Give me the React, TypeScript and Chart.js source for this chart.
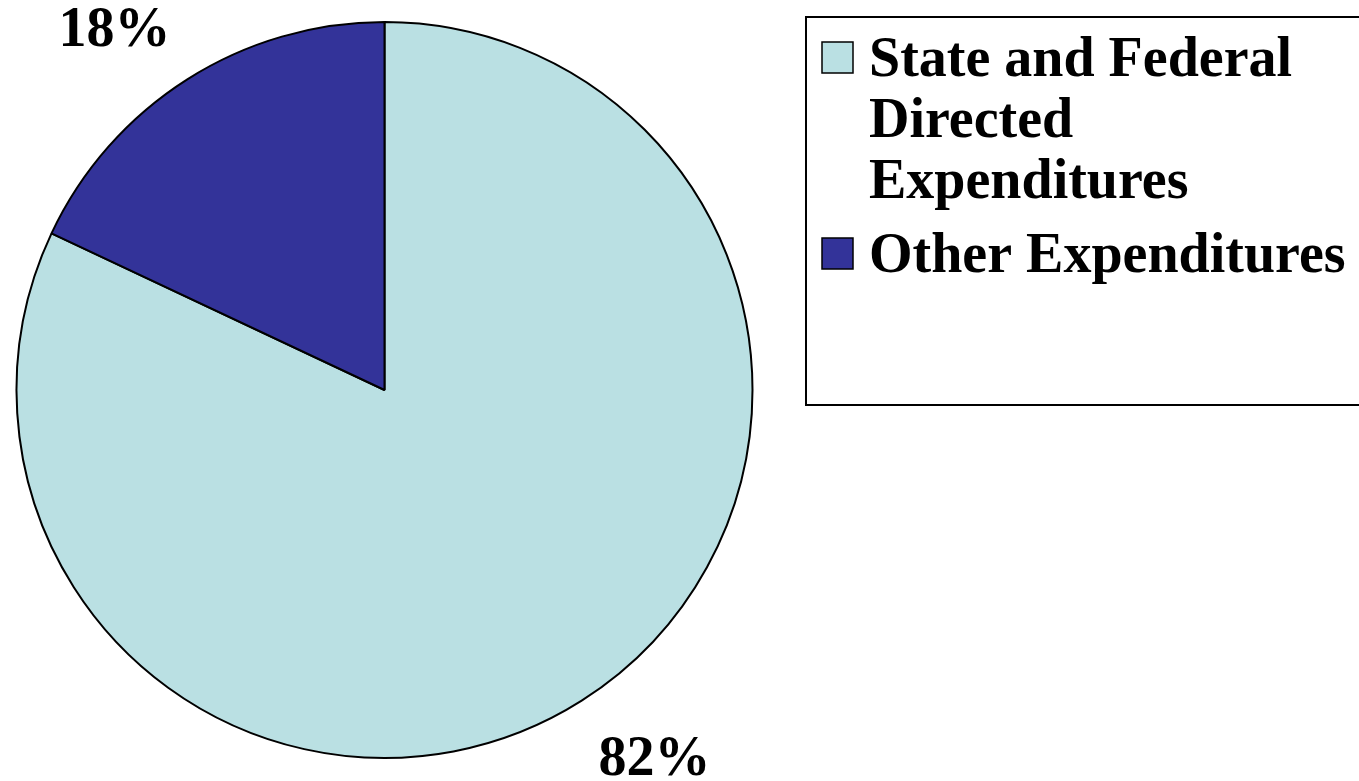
import React, { useEffect, useRef } from "react";
import { Chart, registerables } from "chart.js";

Chart.register(...registerables);

const categories = ["State and Federal Directed Expenditures", "Other Expenditures"];
const shares = [82, 18];
const sliceColors = ["#BAE0E3", "#333399"];
const valueLabels = ["82%", "18%"];

const FONT = "bold 56px 'Liberation Serif', 'Times New Roman', serif";

function wrapText(ctx: CanvasRenderingContext2D, text: string, maxWidth: number): string[] {
  const words = text.split(" ");
  const lines: string[] = [];
  let current = "";
  for (const w of words) {
    const trial = current ? current + " " + w : w;
    if (current && ctx.measureText(trial).width > maxWidth) {
      lines.push(current);
      current = w;
    } else {
      current = trial;
    }
  }
  if (current) lines.push(current);
  return lines;
}

// Percentage labels placed outside each slice, along its middle angle
const outsideLabels = {
  id: "outsideLabels",
  afterDatasetsDraw(chart: any) {
    const ctx: CanvasRenderingContext2D = chart.ctx;
    const meta = chart.getDatasetMeta(0);
    ctx.save();
    ctx.font = FONT;
    ctx.fillStyle = "#000";
    ctx.textAlign = "center";
    ctx.textBaseline = "middle";
    meta.data.forEach((arc: any, i: number) => {
      const { x, y, startAngle, endAngle, outerRadius } = arc.getProps(
        ["x", "y", "startAngle", "endAngle", "outerRadius"],
        true
      );
      const mid = (startAngle + endAngle) / 2;
      const lx = x + Math.cos(mid) * (outerRadius + 136);
      const ly = y + Math.sin(mid) * (outerRadius + 64) + 6;
      ctx.fillText(valueLabels[i], lx, ly);
    });
    ctx.restore();
  },
};

// Boxed legend with wrapped labels to the right of the pie
const boxLegend = {
  id: "boxLegend",
  afterDraw(chart: any) {
    const ctx: CanvasRenderingContext2D = chart.ctx;
    const bg = chart.data.datasets[0].backgroundColor as string[];
    ctx.save();
    ctx.strokeStyle = "#000";
    ctx.lineWidth = 2;
    ctx.strokeRect(806, 17, 620, 388);

    ctx.font = FONT;
    ctx.fillStyle = "#000";
    ctx.textAlign = "left";
    ctx.textBaseline = "alphabetic";
    const textX = 869;
    const lineH = 61;
    const itemGap = 13;
    let baseline = 76;
    (chart.data.labels as string[]).forEach((label, i) => {
      const lines = wrapText(ctx, label, 490);
      ctx.fillStyle = bg[i];
      ctx.fillRect(822, baseline - 34, 31, 31);
      ctx.lineWidth = 1.5;
      ctx.strokeRect(822, baseline - 34, 31, 31);
      ctx.fillStyle = "#000";
      lines.forEach((ln, j) => {
        ctx.fillText(ln, textX, baseline + j * lineH);
      });
      baseline += lines.length * lineH + itemGap;
    });
    ctx.restore();
  },
};

export default function App() {
  const canvasRef = useRef<HTMLCanvasElement | null>(null);

  useEffect(() => {
    if (!canvasRef.current) return;
    const chart = new Chart(canvasRef.current, {
      type: "pie",
      data: {
        labels: categories,
        datasets: [
          {
            data: shares,
            backgroundColor: sliceColors,
            borderColor: "#000",
            borderWidth: 2,
          },
        ],
      },
      options: {
        responsive: false,
        animation: false,
        layout: { padding: { left: 15, right: 605, top: 21, bottom: 22 } },
        plugins: {
          legend: { display: false },
          tooltip: { enabled: false },
        },
      },
      plugins: [outsideLabels, boxLegend],
    });
    return () => chart.destroy();
  }, []);

  return (
    <div style={{ position: "absolute", left: 0, top: 0, width: 1359, height: 781, background: "#fff" }}>
      <canvas ref={canvasRef} width={1359} height={781} />
    </div>
  );
}
